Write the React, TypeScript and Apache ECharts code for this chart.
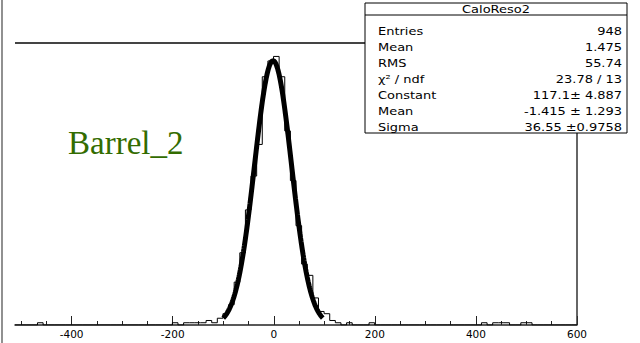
import React, { useEffect, useRef } from "react";
import * as echarts from "echarts";

// Histogram definition: 100 equal bins over the frame range
const HIST_TITLE = "CaloReso2";
const X_MIN = -512;
const X_MAX = 600;
const BIN_COUNTS = [
  0, 0, 0, 0, 1, 0, 0, 0, 0, 0,
  0, 0, 0, 0, 0, 0, 0, 0, 0, 0,
  0, 0, 0, 0, 0, 0, 0, 0, 1, 0,
  1, 1, 1, 1, 2, 1, 3, 5, 9, 19,
  32, 51, 66, 80, 110, 117, 119, 110, 86, 64,
  44, 27, 22, 12, 6, 5, 2, 1, 0, 1,
  0, 0, 0, 1, 0, 0, 0, 0, 0, 0,
  0, 0, 0, 0, 0, 0, 0, 0, 0, 0,
  0, 0, 0, 1, 0, 1, 1, 1, 0, 0,
  1, 1, 0, 0, 0, 0, 0, 0, 0, 0,
];

// Axis ticks
const MAJOR_TICKS = [-400, -200, 0, 200, 400, 600];
const MINOR_TICKS = [
  -500, -450, -350, -300, -250, -150, -100, -50,
  50, 100, 150, 250, 300, 350, 450, 500, 550,
];

// Gaussian fit results
const FIT_CONSTANT = 117.1;
const FIT_MEAN = -1.415;
const FIT_SIGMA = 36.55;
const FIT_RANGE = [-100, 97];

// Statistics box rows
const STAT_LABELS = ["Entries", "Mean", "RMS", "χ² / ndf", "Constant", "Mean", "Sigma"];
const STAT_VALUES = ["948", "1.475", "55.74", "23.78 / 13", "117.1± 4.887", "-1.415 ± 1.293", "36.55 ±0.9758"];

const PAD_LABEL = "Barrel_2";

const WIDTH = 640;
const HEIGHT = 343;
const GRID = { left: 15, right: 63, top: 43, bottom: 18 };

function buildOption(): echarts.EChartsOption {
  const binWidth = (X_MAX - X_MIN) / BIN_COUNTS.length;
  const histPath: number[][] = [[X_MIN, 0]];
  BIN_COUNTS.forEach((c, i) => {
    const lo = X_MIN + i * binWidth;
    histPath.push([lo, c], [lo + binWidth, c]);
  });
  histPath.push([X_MAX, 0]);

  const fitCurve: number[][] = [];
  for (let x = FIT_RANGE[0]; x <= FIT_RANGE[1]; x += 1) {
    const d = (x - FIT_MEAN) / FIT_SIGMA;
    fitCurve.push([x, FIT_CONSTANT * Math.exp(-0.5 * d * d)]);
  }

  const yMax = 1.05 * Math.max(...BIN_COUNTS);

  const frameRight = WIDTH - GRID.right;
  const frameBottom = HEIGHT - GRID.bottom;

  const box = { x: 365, y: 3, w: 262, h: 130, sep: 15 };
  const rowY0 = 31;
  const rowStep = 16;
  const statFont = '11px "DejaVu Sans"';
  const textScale = 1.18;

  const statTexts: any[] = [];
  STAT_LABELS.forEach((label, i) => {
    const y = rowY0 + i * rowStep;
    statTexts.push({
      type: "text",
      x: box.x + 13,
      y,
      scaleX: textScale,
      z: 12,
      style: { text: label, x: 0, y: 0, font: statFont, fill: "#000", align: "left", verticalAlign: "middle" },
    });
    statTexts.push({
      type: "text",
      x: box.x + box.w - 5,
      y,
      scaleX: textScale,
      z: 12,
      style: { text: STAT_VALUES[i], x: 0, y: 0, font: statFont, fill: "#000", align: "right", verticalAlign: "middle" },
    });
  });

  return {
    animation: false,
    backgroundColor: "#fff",
    grid: { ...GRID, containLabel: false },
    xAxis: [
      {
        type: "value",
        min: X_MIN,
        max: X_MAX,
        position: "bottom",
        axisLine: { show: true, onZero: false, lineStyle: { color: "#222", width: 1.5 } },
        axisTick: { show: true, inside: true, length: 9, customValues: MAJOR_TICKS, lineStyle: { color: "#222", width: 1 } },
        axisLabel: {
          show: true,
          customValues: MAJOR_TICKS,
          formatter: (v: number) => String(v),
          fontFamily: "DejaVu Sans",
          fontSize: 10.5,
          color: "#000",
          margin: 3,
        },
        splitLine: { show: false },
      } as any,
      {
        type: "value",
        min: X_MIN,
        max: X_MAX,
        position: "bottom",
        axisLine: { show: false },
        axisTick: { show: true, inside: true, length: 4, customValues: MINOR_TICKS, lineStyle: { color: "#222", width: 1 } },
        axisLabel: { show: false },
        splitLine: { show: false },
      } as any,
    ],
    yAxis: {
      type: "value",
      min: 0,
      max: yMax,
      show: false,
      splitLine: { show: false },
    },
    series: [
      {
        type: "line",
        name: HIST_TITLE,
        data: histPath,
        symbol: "none",
        silent: true,
        lineStyle: { color: "#000", width: 1 },
        z: 2,
      },
      {
        type: "line",
        name: "gaus",
        data: fitCurve,
        symbol: "none",
        silent: true,
        lineStyle: { color: "#000", width: 5 },
        z: 3,
      },
    ],
    graphic: [
      // pad border
      { type: "line", z: 1, shape: { x1: 2, y1: 0, x2: 2, y2: HEIGHT }, style: { stroke: "#555", lineWidth: 1.3 } },
      // frame top and right edges
      { type: "line", z: 1, shape: { x1: GRID.left, y1: GRID.top, x2: frameRight, y2: GRID.top }, style: { stroke: "#444", lineWidth: 2 } },
      { type: "line", z: 1, shape: { x1: frameRight, y1: GRID.top, x2: frameRight, y2: frameBottom }, style: { stroke: "#333", lineWidth: 1.5 } },
      // pad label
      {
        type: "text",
        x: 68,
        y: 143,
        z: 5,
        style: { text: PAD_LABEL, x: 0, y: 0, font: '33px "Liberation Serif"', fill: "#336c00", align: "left", verticalAlign: "middle" },
      },
      // statistics box
      { type: "rect", z: 10, shape: { x: box.x, y: box.y, width: box.w, height: box.h }, style: { fill: "#fff", stroke: "#000", lineWidth: 1 } },
      { type: "line", z: 11, shape: { x1: box.x, y1: box.y + box.sep - 3, x2: box.x + box.w, y2: box.y + box.sep - 3 }, style: { stroke: "#000", lineWidth: 1 } },
      {
        type: "text",
        x: box.x + box.w / 2,
        y: 9,
        scaleX: textScale,
        z: 12,
        style: { text: HIST_TITLE, x: 0, y: 0, font: statFont, fill: "#000", align: "center", verticalAlign: "middle" },
      },
      ...statTexts,
    ],
  };
}

export default function App() {
  const ref = useRef<HTMLDivElement>(null);

  useEffect(() => {
    if (!ref.current) return;
    const chart = echarts.init(ref.current, null, { renderer: "svg" });
    chart.setOption(buildOption());
    return () => chart.dispose();
  }, []);

  return (
    <div
      ref={ref}
      style={{ position: "absolute", left: 0, top: 0, width: WIDTH, height: HEIGHT, background: "#fff" }}
    />
  );
}
